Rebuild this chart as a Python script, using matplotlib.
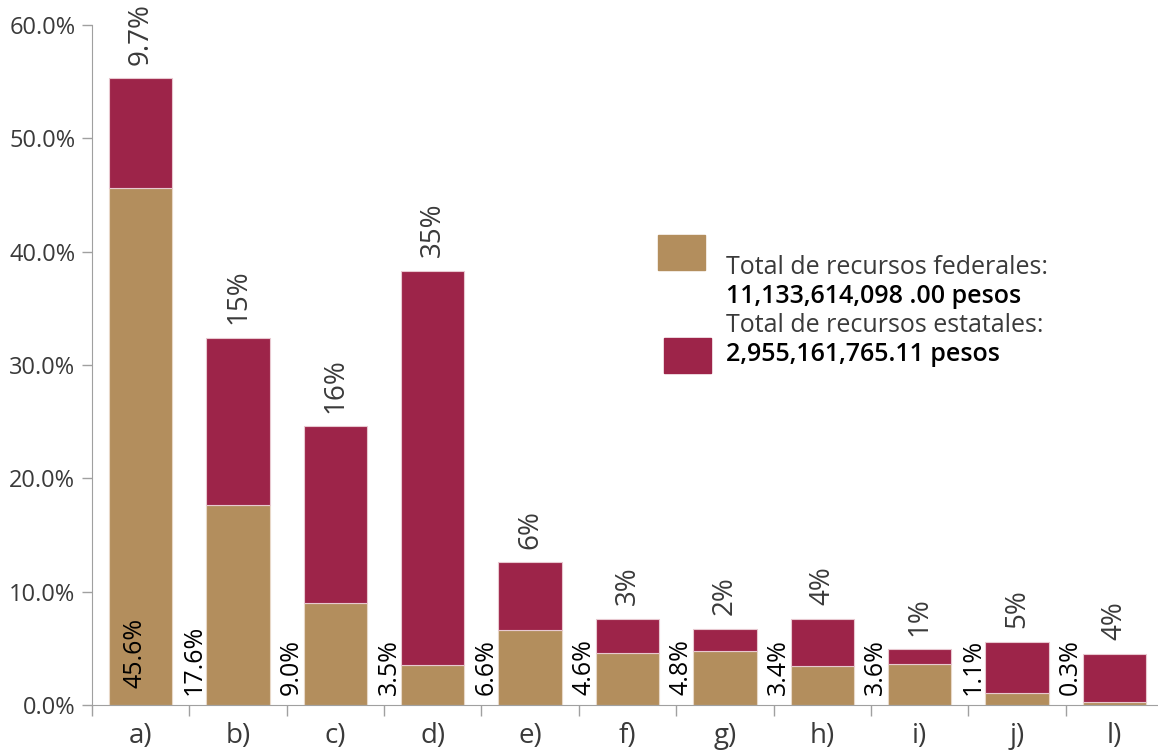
import numpy as np
import matplotlib.pyplot as plt
from matplotlib.patches import Rectangle

# data (percent)
categories = ["a)", "b)", "c)", "d)", "e)", "f)", "g)", "h)", "i)", "j)", "l)"]
federal = [45.6, 17.6, 9.0, 3.5, 6.6, 4.6, 4.8, 3.4, 3.6, 1.1, 0.3]
estatal = [9.7, 14.8, 15.6, 34.8, 6.0, 3.0, 1.9, 4.2, 1.3, 4.5, 4.2]
federal_labels = ["45.6%", "17.6%", "9.0%", "3.5%", "6.6%", "4.6%", "4.8%", "3.4%", "3.6%", "1.1%", "0.3%"]
estatal_labels = ["9.7%", "15%", "16%", "35%", "6%", "3%", "2%", "4%", "1%", "5%", "4%"]
legend_lines = ["Total de recursos federales:", "11,133,614,098 .00 pesos",
                "Total de recursos estatales:", "2,955,161,765.11 pesos"]

tan = "#B38E5D"
maroon = "#9D2449"
grey_txt = "#3a3a3a"
plt.rcParams['font.family'] = ['Open Sans', 'DejaVu Sans']

fig = plt.figure(figsize=(11.58, 7.56), dpi=100)
ax = fig.add_axes([0.0794, 0.0675, 0.925, 0.8995])

x = np.arange(len(categories))
ax.bar(x, federal, width=0.65, color=tan, edgecolor="#e8d8c8", linewidth=0.8)
ax.bar(x, estatal, width=0.65, bottom=federal, color=maroon, edgecolor="#e8c8d0", linewidth=0.8)

totals = np.array(federal) + np.array(estatal)
for i in range(len(categories)):
    ax.text(x[i], totals[i] + 1.2, estatal_labels[i], rotation=90, ha="center", va="bottom",
            fontsize=20, color=grey_txt)
    if i == 0:
        off, y0 = -0.06, 1.5
    else:
        off, y0 = -0.45, 0.9
    ax.text(x[i] + off, y0, federal_labels[i], rotation=90, ha="center", va="bottom",
            fontsize=18, color="black")

ax.set_xlim(-0.5, len(categories) - 0.5)
ax.set_ylim(0, 60)
ax.set_yticks(np.arange(0, 61, 10))
ax.set_yticklabels([f"{v:.1f}%" for v in np.arange(0, 61, 10)], fontsize=17, color=grey_txt)
ax.set_xticks(x)
ax.set_xticklabels(categories, fontsize=20, color=grey_txt)
ax.set_xticks(np.arange(-0.5, len(categories), 1), minor=True)
ax.tick_params(axis="x", which="major", length=0, pad=12)
ax.tick_params(axis="x", which="minor", length=8, color="#a0a0a0", width=1)
ax.tick_params(axis="y", length=7, color="#a0a0a0", width=1, pad=5)
for s in ["top", "right"]:
    ax.spines[s].set_visible(False)
for s in ["left", "bottom"]:
    ax.spines[s].set_color("#a0a0a0")

# legend drawn by hand to match the layout
fig.patches.append(Rectangle((658 / 1158, 1 - 270 / 756), 47 / 1158, 35 / 756,
                             transform=fig.transFigure, color=tan))
fig.patches.append(Rectangle((664 / 1158, 1 - 373 / 756), 47 / 1158, 35 / 756,
                             transform=fig.transFigure, color=maroon))
ys = [268, 297, 326, 355]
weights = ["normal", "semibold", "normal", "semibold"]
for t, yy, w in zip(legend_lines, ys, weights):
    fig.text(726 / 1158, 1 - yy / 756, t, fontsize=18, va="center", ha="left",
             fontweight=w, color=grey_txt if w == "normal" else "black")

fig.savefig("out.png", dpi=100)
